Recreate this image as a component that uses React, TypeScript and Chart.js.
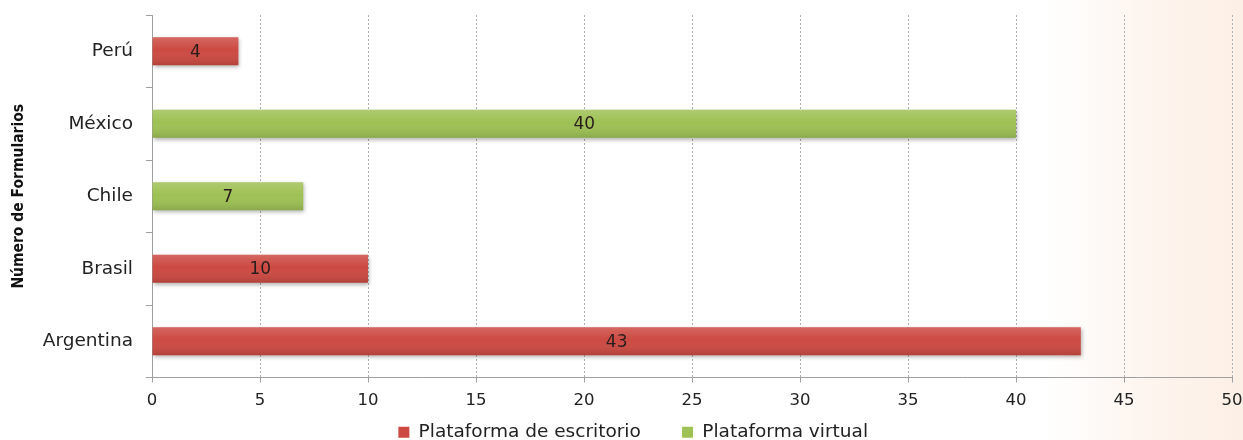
import React, { useEffect, useRef } from "react";
import Chart from "chart.js/auto";

const categories = ["Perú", "México", "Chile", "Brasil", "Argentina"];
const escritorio = [4, null, null, 10, 43];
const virtualPlat = [null, 40, 7, null, null];
const seriesNames = ["Plataforma de escritorio", "Plataforma virtual"];
const axisTitle = "Número de Formularios";
const xMin = 0;
const xMax = 50;
const xStep = 5;

const RED = "#cc4a42";
const GREEN = "#9ec154";
const FONT = "DejaVu Sans";

const decorPlugin = {
  id: "decor",
  beforeDraw(chart: any) {
    const { ctx, width, height } = chart;
    const g = ctx.createLinearGradient(0, 0, width, 0);
    g.addColorStop(0, "#ffffff");
    g.addColorStop(0.84, "#ffffff");
    g.addColorStop(0.93, "#fdf4ed");
    g.addColorStop(1, "#fcefe5");
    ctx.save();
    ctx.fillStyle = g;
    ctx.fillRect(0, 0, width, height);
    ctx.restore();
  },
  beforeDatasetsDraw(chart: any) {
    const ctx = chart.ctx;
    ctx.save();
    ctx.shadowColor = "rgba(0,0,0,0.3)";
    ctx.shadowBlur = 4;
    ctx.shadowOffsetX = 1;
    ctx.shadowOffsetY = 2;
  },
  afterDatasetsDraw(chart: any) {
    const ctx = chart.ctx;
    ctx.restore();
    chart.data.datasets.forEach((ds: any, di: number) => {
      const meta = chart.getDatasetMeta(di);
      meta.data.forEach((el: any, i: number) => {
        const v = ds.data[i];
        if (v === null || v === undefined) return;
        const { x, y, base, height } = el.getProps(["x", "y", "base", "height"], true);
        const left = Math.min(x, base);
        const w = Math.abs(x - base);
        const top = y - height / 2;
        const g = ctx.createLinearGradient(0, top, 0, top + height);
        g.addColorStop(0, "rgba(255,255,255,0.16)");
        g.addColorStop(0.45, "rgba(255,255,255,0)");
        g.addColorStop(1, "rgba(0,0,0,0.13)");
        ctx.save();
        ctx.fillStyle = g;
        ctx.fillRect(left, top, w, height);
        ctx.font = `17px "${FONT}"`;
        ctx.fillStyle = "#2a1c1c";
        ctx.textAlign = "center";
        ctx.textBaseline = "middle";
        ctx.fillText(String(v), (x + base) / 2, y + 1);
        ctx.restore();
      });
    });
  },
};

export default function App() {
  const ref = useRef<HTMLCanvasElement | null>(null);
  useEffect(() => {
    if (!ref.current) return;
    const chart = new Chart(ref.current, {
      type: "bar",
      data: {
        labels: categories,
        datasets: [
          {
            label: seriesNames[0],
            data: escritorio,
            backgroundColor: RED,
            categoryPercentage: 0.8,
            barPercentage: 0.48,
          },
          {
            label: seriesNames[1],
            data: virtualPlat,
            backgroundColor: GREEN,
            categoryPercentage: 0.8,
            barPercentage: 0.48,
          },
        ],
      },
      options: {
        indexAxis: "y",
        responsive: false,
        animation: false,
        devicePixelRatio: 1,
        layout: { padding: { top: 15, right: 11, left: 0, bottom: -11.5 } },
        scales: {
          x: {
            stacked: true,
            min: xMin,
            max: xMax,
            ticks: {
              stepSize: xStep,
              color: "#222",
              font: { family: FONT, size: 16.5 },
              padding: 8,
              maxRotation: 0,
            },
            grid: {
              color: "#b0b0b0",
              lineWidth: 1,
              drawTicks: true,
              tickLength: 5,
              tickColor: "#a0a0a0",
              tickBorderDash: [],
            },
            border: { display: true, color: "#a0a0a0", width: 1, dash: [2, 2] },
            afterFit: (s: any) => {
              s.height = 39.5;
              s.paddingLeft = 0;
              s.paddingRight = 0;
            },
          },
          y: {
            stacked: true,
            ticks: {
              color: "#222",
              font: { family: FONT, size: 18.5 },
              padding: 13,
            },
            grid: {
              display: true,
              drawOnChartArea: false,
              drawTicks: true,
              tickLength: 6,
              tickColor: "#a0a0a0",
              color: "#a0a0a0",
            },
            border: { display: true, color: "#a0a0a0", width: 1 },
            title: {
              display: true,
              text: axisTitle,
              color: "#111",
              font: {
                family: '"Liberation Sans Narrow", "DejaVu Sans Condensed", sans-serif',
                size: 15.5,
                weight: "bold",
              },
              padding: { top: 10, bottom: 0 },
            },
            afterFit: (s: any) => {
              s.width = 152;
              s.paddingTop = 0;
              s.paddingBottom = 0;
            },
          },
        },
        plugins: {
          legend: {
            position: "bottom",
            fullSize: false,
            labels: {
              boxWidth: 11,
              boxHeight: 11,
              padding: 6,
              color: "#222",
              font: { family: FONT, size: 18.5 },
              generateLabels: (c: any) =>
                (Chart as any).defaults.plugins.legend.labels
                  .generateLabels(c)
                  .map((l: any, i: number) => ({
                    ...l,
                    text: l.text + (i === 0 ? " ".repeat(6) : " ".repeat(20)),
                    lineWidth: 0,
                    strokeStyle: "rgba(0,0,0,0)",
                  })),
            },
          },
          tooltip: { enabled: false },
        },
      } as any,
      plugins: [decorPlugin],
    });
    return () => chart.destroy();
  }, []);
  return (
    <div style={{ position: "absolute", left: 0, top: 0, width: 1243, height: 440 }}>
      <canvas ref={ref} width={1243} height={440} />
    </div>
  );
}
